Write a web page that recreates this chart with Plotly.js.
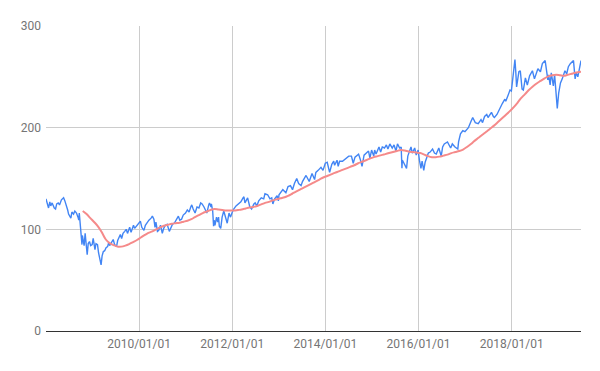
<!DOCTYPE html>
<html>
<head>
<meta charset="utf-8">
<script src="https://cdn.plot.ly/plotly-3.0.1.min.js"></script>
<style>html,body{margin:0;padding:0;background:#fff;}#chart{width:600px;height:371px;}</style>
</head>
<body>
<div id="chart"></div>
<script>
const priceDates = ["2008-01-02","2008-01-09","2008-01-22","2008-02-01","2008-02-08","2008-02-19","2008-03-07","2008-03-17","2008-03-26","2008-04-07","2008-04-17","2008-05-02","2008-05-19","2008-05-29","2008-06-10","2008-06-20","2008-06-27","2008-07-15","2008-07-23","2008-08-05","2008-08-15","2008-08-28","2008-09-09","2008-09-15","2008-09-19","2008-09-29","2008-10-06","2008-10-10","2008-10-13","2008-10-27","2008-11-04","2008-11-12","2008-11-20","2008-11-28","2008-12-08","2008-12-17","2008-12-29",
"2009-01-06","2009-01-20","2009-01-28","2009-02-09","2009-02-17","2009-02-27","2009-03-09","2009-03-17","2009-03-26","2009-04-06","2009-04-17","2009-04-29","2009-05-08","2009-05-15","2009-06-02","2009-06-12","2009-06-23","2009-07-08","2009-07-17","2009-07-29","2009-08-07","2009-08-17","2009-08-28","2009-09-10","2009-09-22","2009-10-02","2009-10-19","2009-10-30","2009-11-09","2009-11-18","2009-11-27","2009-12-08","2009-12-18","2009-12-31",
"2010-01-11","2010-01-22","2010-02-08","2010-02-19","2010-03-05","2010-03-19","2010-04-05","2010-04-15","2010-04-27","2010-05-06","2010-05-13","2010-05-25","2010-06-04","2010-06-18","2010-07-02","2010-07-13","2010-07-26","2010-08-09","2010-08-26","2010-09-07","2010-09-20","2010-10-04","2010-10-18","2010-11-05","2010-11-16","2010-11-30","2010-12-13","2010-12-31",
"2011-01-14","2011-01-28","2011-02-10","2011-02-18","2011-03-01","2011-03-16","2011-03-31","2011-04-15","2011-04-29","2011-05-10","2011-05-25","2011-06-08","2011-06-16","2011-07-01","2011-07-07","2011-07-19","2011-07-22","2011-08-01","2011-08-08","2011-08-12","2011-08-19","2011-08-31","2011-09-09","2011-09-16","2011-09-22","2011-10-03","2011-10-14","2011-10-27","2011-11-04","2011-11-23","2011-12-07","2011-12-19","2011-12-30",
"2012-01-13","2012-01-31","2012-02-15","2012-02-29","2012-03-09","2012-03-26","2012-04-02","2012-04-10","2012-04-20","2012-05-01","2012-05-18","2012-06-01","2012-06-19","2012-06-29","2012-07-12","2012-07-27","2012-08-16","2012-09-04","2012-09-14","2012-10-05","2012-10-23","2012-11-06","2012-11-15","2012-11-29","2012-12-18","2012-12-28",
"2013-01-02","2013-01-18","2013-02-01","2013-02-25","2013-03-14","2013-04-02","2013-04-18","2013-05-03","2013-05-21","2013-06-05","2013-06-24","2013-07-05","2013-07-22","2013-08-02","2013-08-27","2013-09-18","2013-10-08","2013-10-18","2013-11-05","2013-11-27","2013-12-13","2013-12-31",
"2014-01-15","2014-02-03","2014-02-20","2014-03-07","2014-03-14","2014-04-02","2014-04-11","2014-04-22","2014-05-15","2014-06-09","2014-06-24","2014-07-03","2014-07-24","2014-08-07","2014-08-21","2014-09-18","2014-10-01","2014-10-15","2014-10-31","2014-11-20","2014-12-05","2014-12-16","2014-12-29",
"2015-01-15","2015-01-22","2015-02-02","2015-02-25","2015-03-10","2015-03-23","2015-04-09","2015-04-24","2015-05-06","2015-05-21","2015-06-09","2015-06-23","2015-07-08","2015-07-20","2015-08-06","2015-08-18","2015-08-24","2015-08-27","2015-09-09","2015-09-29","2015-10-09","2015-10-23","2015-11-03","2015-11-13","2015-12-02","2015-12-14","2015-12-29",
"2016-01-08","2016-01-20","2016-01-29","2016-02-11","2016-02-22","2016-03-04","2016-03-18","2016-04-01","2016-04-20","2016-05-05","2016-05-19","2016-06-08","2016-06-16","2016-06-27","2016-07-08","2016-07-21","2016-08-15","2016-09-09","2016-09-22","2016-10-13","2016-11-04","2016-11-10","2016-11-25","2016-12-13","2016-12-30",
"2017-01-13","2017-01-26","2017-02-15","2017-03-01","2017-03-21","2017-04-13","2017-05-05","2017-05-17","2017-06-02","2017-06-19","2017-06-29","2017-07-26","2017-08-10","2017-08-18","2017-09-07","2017-09-29","2017-10-20","2017-11-08","2017-11-15","2017-12-04","2017-12-18","2017-12-29",
"2018-01-12","2018-01-26","2018-02-02","2018-02-08","2018-02-26","2018-03-09","2018-03-23","2018-04-02","2018-04-18","2018-05-03","2018-05-21","2018-06-12","2018-06-28","2018-07-25","2018-08-14","2018-08-29","2018-09-20","2018-10-11","2018-10-17","2018-10-29","2018-11-07","2018-11-23","2018-12-03","2018-12-14","2018-12-24",
"2019-01-04","2019-01-18","2019-02-01","2019-02-22","2019-03-08","2019-03-21","2019-04-05","2019-04-30","2019-05-13","2019-05-21","2019-06-03","2019-06-20","2019-06-28"];

const priceValues = [130,126,121,127,123,126,121,120,125,126,124,129,131,128,124,119,115,111,117,115,118,116,112,109,116,104,95,85,94,84,96,84,75,86,88,84,85,
91,80,86,85,77,72,65,74,78,79,82,83,87,84,89,90,85,83,89,92,95,91,96,98,100,96,102,97,101,104,101,103,104,106,
108,102,99,104,107,109,111,113,110,102,107,98,99,104,96,101,104,105,98,101,105,106,109,113,109,110,114,116,
119,117,122,124,120,116,122,121,126,125,122,118,116,124,126,122,125,118,103,109,104,112,107,112,103,101,112,118,114,106,116,112,116,
120,123,125,126,127,131,132,126,129,131,122,120,125,126,123,128,131,130,135,134,130,131,125,130,133,128,
134,137,139,136,142,143,139,145,150,145,143,147,151,153,147,155,149,156,158,161,158,165,
166,156,164,167,163,168,162,167,167,170,171,172,172,165,171,174,169,162,173,175,177,170,178,
172,178,174,181,176,181,180,183,179,184,180,183,177,184,180,181,160,168,165,160,172,178,181,175,180,173,178,
168,160,167,158,166,171,175,176,179,175,174,180,176,172,181,184,186,180,184,181,179,186,194,197,196,
198,200,206,210,205,204,208,205,211,213,210,215,211,210,213,219,224,228,226,232,237,236,
250,267,254,240,255,256,238,237,249,242,251,256,248,258,255,263,266,247,252,242,254,241,252,236,219,
234,244,248,256,253,260,263,266,248,254,250,263,266];

const maDates = ["2008-10-16","2008-11-15","2008-12-15","2009-01-15","2009-02-15","2009-03-15","2009-04-15","2009-05-15","2009-06-15","2009-07-15","2009-08-15","2009-09-15","2009-10-15","2009-11-15","2009-12-15",
"2010-01-15","2010-02-15","2010-03-15","2010-04-15","2010-05-15","2010-06-15","2010-07-15","2010-08-15","2010-09-15","2010-10-15","2010-11-15","2010-12-15",
"2011-01-15","2011-02-15","2011-03-15","2011-04-15","2011-05-15","2011-06-15","2011-07-15","2011-08-15","2011-09-15","2011-10-15","2011-11-15","2011-12-15",
"2012-01-15","2012-02-15","2012-03-15","2012-04-15","2012-05-15","2012-06-15","2012-07-15","2012-08-15","2012-09-15","2012-10-15","2012-11-15","2012-12-15",
"2013-01-15","2013-02-15","2013-03-15","2013-04-15","2013-05-15","2013-06-15","2013-07-15","2013-08-15","2013-09-15","2013-10-15","2013-11-15","2013-12-15",
"2014-01-15","2014-02-15","2014-03-15","2014-04-15","2014-05-15","2014-06-15","2014-07-15","2014-08-15","2014-09-15","2014-10-15","2014-11-15","2014-12-15",
"2015-01-15","2015-02-15","2015-03-15","2015-04-15","2015-05-15","2015-06-15","2015-07-15","2015-08-15","2015-09-15","2015-10-15","2015-11-15","2015-12-15",
"2016-01-15","2016-02-15","2016-03-15","2016-04-15","2016-05-15","2016-06-15","2016-07-15","2016-08-15","2016-09-15","2016-10-15","2016-11-15","2016-12-15",
"2017-01-15","2017-02-15","2017-03-15","2017-04-15","2017-05-15","2017-06-15","2017-07-15","2017-08-15","2017-09-15","2017-10-15","2017-11-15","2017-12-15",
"2018-01-15","2018-02-15","2018-03-15","2018-04-15","2018-05-15","2018-06-15","2018-07-15","2018-08-15","2018-09-15","2018-10-15","2018-11-15","2018-12-15",
"2019-01-15","2019-02-15","2019-03-15","2019-04-15","2019-05-15","2019-06-28"];

const maValues = [118,115,111,107,102.5,97,90,86.5,84.5,83,83,84,85.5,87.5,89.5,
92,94.5,96.5,98,100,102,103.5,104.5,105.5,106,106.5,107.5,
108.5,110,112,114,116,117.5,119,120,119.5,119,118.5,118.5,
118.5,119,119.5,120.5,121.5,122,123,124.5,126,127,128.5,129.5,
130.5,131.5,133,135,137,139,141,143,145,147,149,151,
152.5,154,155.5,157,158.5,160,161.5,163,165,166.5,168,169.5,
171,172,173,174,175,176,177,178,177.5,176.5,176,175.5,
175,173.5,172,171,171,171.5,172.5,173.5,175,176,177,178.5,
181,184,187,190,193,196,199,202,205.5,209,212.5,216,
220,224.5,229,233,237,240.5,243.5,246,248.5,250.5,251.5,252,
251.5,251,252,253,254,255];

const xTickVals = ["2010-01-01","2012-01-01","2014-01-01","2016-01-01","2018-01-01"];
const xTickText = ["2010/01/01","2012/01/01","2014/01/01","2016/01/01","2018/01/01"];
const yTickVals = [0,100,200,300];

const traces = [
  {x: priceDates, y: priceValues, type: 'scatter', mode: 'lines',
   line: {color: '#4285f4', width: 1.4}, hoverinfo: 'skip'},
  {x: maDates, y: maValues, type: 'scatter', mode: 'lines',
   line: {color: '#f58a8a', width: 2, shape: 'spline'}, hoverinfo: 'skip'}
];

const layout = {
  width: 600, height: 371,
  margin: {l: 46, r: 19, t: 26, b: 40},
  paper_bgcolor: '#fff', plot_bgcolor: '#fff',
  showlegend: false,
  font: {family: 'Roboto, Arial, sans-serif', size: 12, color: '#757575'},
  xaxis: {
    type: 'date',
    range: ['2008-01-02', '2019-06-28'],
    tickvals: xTickVals, ticktext: xTickText,
    showgrid: true, gridcolor: '#cccccc', gridwidth: 1,
    showline: false, zeroline: false, ticks: '',
    ticklabelstandoff: 4,
    tickfont: {size: 12, color: '#757575'}
  },
  yaxis: {
    range: [0, 300],
    tickvals: yTickVals,
    showgrid: true, gridcolor: '#cccccc', gridwidth: 1,
    zeroline: true, zerolinecolor: '#333333', zerolinewidth: 1,
    showline: false, ticks: '',
    ticklabelstandoff: 4,
    tickfont: {size: 12, color: '#757575'}
  }
};

Plotly.newPlot('chart', traces, layout, {displayModeBar: false, staticPlot: true});
</script>
</body>
</html>
